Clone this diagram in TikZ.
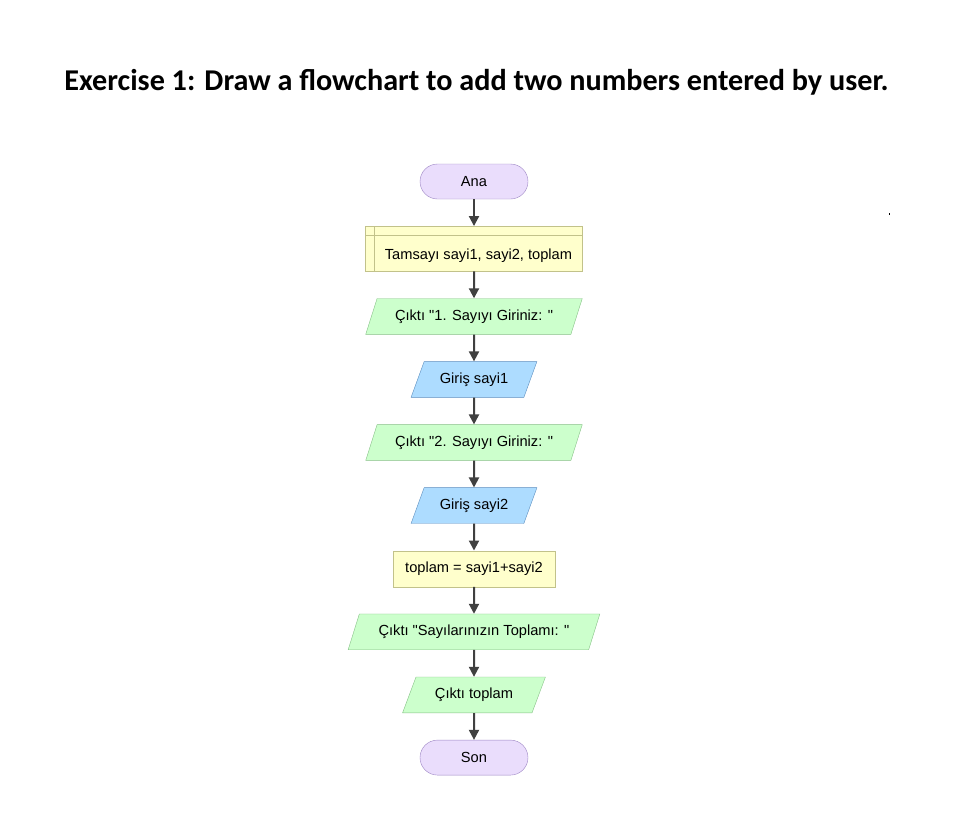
\documentclass[tikz,border=0pt]{standalone}
\usepackage{fontspec}
\setmainfont{Liberation Sans}[Ligatures=TeXOff]
\newfontfamily\titlefont{Carlito}
\usetikzlibrary{shapes.geometric,positioning,arrows.meta}

\definecolor{termfill}{HTML}{EADDFC}
\definecolor{termline}{HTML}{9D86C4}
\definecolor{declfill}{HTML}{FFFFCC}
\definecolor{declline}{HTML}{C2C28A}
\definecolor{outfill}{HTML}{CCFFCC}
\definecolor{outline}{HTML}{86C086}
\definecolor{infill}{HTML}{ADDCFF}
\definecolor{inline}{HTML}{5B8DBE}
\definecolor{flowgray}{HTML}{404040}

\begin{document}
\begin{tikzpicture}[x=1bp, y=-1bp,
    every node/.style={font=\fontsize{14.7}{17}\selectfont},
    term/.style={draw=termline, fill=termfill, rounded corners=17.5bp, minimum width=108bp, minimum height=35bp},
    decl/.style={draw=declline, fill=declfill, minimum width=217bp, minimum height=45bp, text height=25bp, text depth=3bp},
    proc/.style={draw=declline, fill=declfill, minimum width=162bp, minimum height=36bp},
    io/.style={trapezium, trapezium left angle=65, trapezium right angle=115, trapezium stretches=true, minimum height=35.8bp, inner xsep=2bp},
    outbox/.style={io, draw=outline, fill=outfill},
    inbox/.style={io, draw=inline, fill=infill},
    flow/.style={draw=flowgray, line width=2bp, -{Triangle[length=10bp, width=10bp]}}]
        \useasboundingbox (0,0) rectangle (966,827);

        \node[font=\titlefont\bfseries\fontsize{30.3}{36}\selectfont] (title) at (476.5,82) {Exercise 1: Draw a flowchart to add two numbers entered by user.};
        \fill (888.5,213) rectangle (890,214.5);

        \node[term] (ana) at (474,181.5) {Ana};
        \node[decl] (decl) [below = 26.85bp of ana] {\hspace*{9bp}Tamsayı sayi1, sayi2, toplam};
        \node[outbox, minimum width=217bp] (out_1) [below = 26.85bp of decl] {Çıktı "1. Sayıyı Giriniz: "};
        \node[inbox, minimum width=126bp] (in_1) [below = 26.85bp of out_1] {Giriş sayi1};
        \node[outbox, minimum width=217bp] (out_2) [below = 26.85bp of in_1] {Çıktı "2. Sayıyı Giriniz: "};
        \node[inbox, minimum width=126bp] (in_2) [below = 26.85bp of out_2] {Giriş sayi2};
        \node[proc] (sum) [below = 26.85bp of in_2] {toplam = sayi1+sayi2};
        \node[outbox, minimum width=252bp] (out_3) [below = 26.85bp of sum] {Çıktı "Sayılarınızın Toplamı: "};
        \node[outbox, minimum width=143bp] (out_4) [below = 26.85bp of out_3] {Çıktı toplam};
        \node[term] (son) [below = 26.85bp of out_4] {Son};

        %declaration header lines
        \draw[declline] ([yshift=-9bp]decl.north west) -- ([yshift=-9bp]decl.north east);
        \draw[declline] ([xshift=9bp]decl.north west) -- ([xshift=9bp]decl.south west);

        %ana to decl
        \draw[flow] (ana) -- (decl);
        %decl to out_1
        \draw[flow] (decl) -- (out_1);
        %out_1 to in_1
        \draw[flow] (out_1) -- (in_1);
        %in_1 to out_2
        \draw[flow] (in_1) -- (out_2);
        %out_2 to in_2
        \draw[flow] (out_2) -- (in_2);
        %in_2 to sum
        \draw[flow] (in_2) -- (sum);
        %sum to out_3
        \draw[flow] (sum) -- (out_3);
        %out_3 to out_4
        \draw[flow] (out_3) -- (out_4);
        %out_4 to son
        \draw[flow] (out_4) -- (son);
\end{tikzpicture}
\end{document}
